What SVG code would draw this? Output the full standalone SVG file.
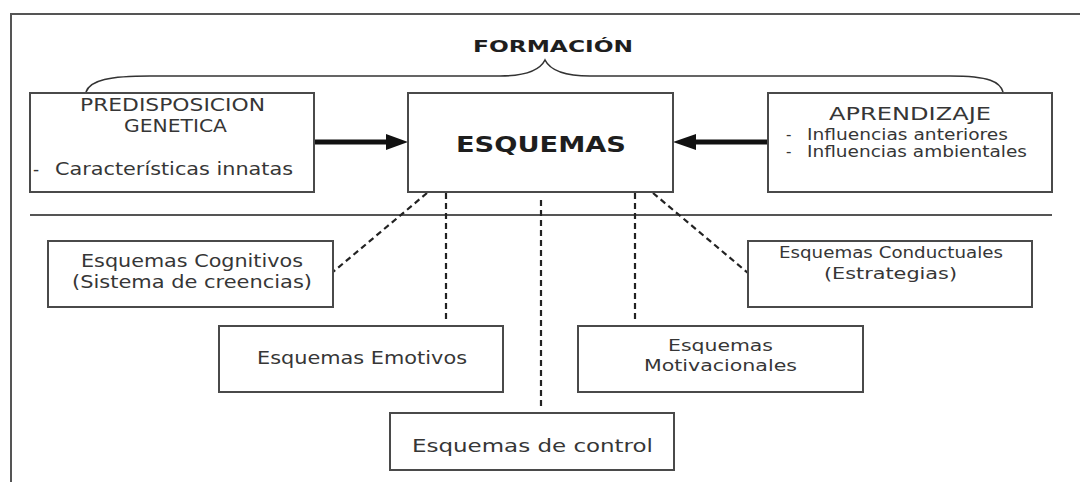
<svg xmlns="http://www.w3.org/2000/svg" width="1080" height="482" viewBox="0 0 1080 482">
<style>
.box{fill:#fff;stroke:#4a4a4a;stroke-width:2}
.t{font-family:"DejaVu Sans",Verdana,sans-serif;fill:#363636}
.b{font-family:"DejaVu Sans",Verdana,sans-serif;font-weight:bold;fill:#1e1e1e}
.dash{stroke:#222;stroke-width:2.2;stroke-dasharray:6,4;fill:none}
.arrow{stroke:#111;stroke-width:5;fill:none}
.head{fill:#111}
</style>
<rect width="1080" height="482" fill="#fff"/>
<g id="frame" fill="none" stroke="#555" stroke-width="2">
<path d="M11,482 L11,14 L1080,14"/>
<path d="M30,215 L1052,215"/>
</g>
<g id="formacion">
<path d="M86,92 C90,80 110,76 150,76 L500,76 C525,76 540,70 545,60 C550,70 565,76 590,76 L950,76 C990,76 1000,82 1003,92" fill="none" stroke="#333" stroke-width="1.6"/>
<text class="b" x="473" y="52" font-size="16.5" textLength="160" lengthAdjust="spacingAndGlyphs">FORMACIÓN</text>
</g>
<g id="connectors">
<line class="arrow" x1="314" y1="142" x2="389" y2="142"/>
<polygon class="head" points="386,134 408,142 386,150"/>
<line class="arrow" x1="768" y1="142" x2="693" y2="142"/>
<polygon class="head" points="696,134 673,142 696,150"/>
<line class="dash" x1="427" y1="193" x2="333" y2="272"/>
<line class="dash" x1="446" y1="193" x2="446" y2="320"/>
<line class="dash" x1="541" y1="200" x2="541" y2="408"/>
<line class="dash" x1="635" y1="193" x2="635" y2="320"/>
<line class="dash" x1="653" y1="193" x2="748" y2="273"/>
</g>
<g id="predisposicion">
<rect class="box" x="30" y="93" width="284" height="99"/>
<text class="t" x="80" y="111" font-size="17" textLength="185" lengthAdjust="spacingAndGlyphs">PREDISPOSICION</text>
<text class="t" x="124" y="132" font-size="17" textLength="103" lengthAdjust="spacingAndGlyphs">GENETICA</text>
<text class="t" x="33" y="175" font-size="17">-</text>
<text class="t" x="55" y="175" font-size="17" textLength="238" lengthAdjust="spacingAndGlyphs">Características innatas</text>
</g>
<g id="esquemas">
<rect class="box" x="408" y="93" width="265" height="99"/>
<text class="b" x="456" y="152" font-size="21" textLength="170" lengthAdjust="spacingAndGlyphs">ESQUEMAS</text>
</g>
<g id="aprendizaje">
<rect class="box" x="768" y="93" width="284" height="99"/>
<text class="t" x="829" y="120" font-size="17" textLength="162" lengthAdjust="spacingAndGlyphs">APRENDIZAJE</text>
<text class="t" x="786" y="140" font-size="15">-</text>
<text class="t" x="807" y="140" font-size="15" textLength="201" lengthAdjust="spacingAndGlyphs">Influencias anteriores</text>
<text class="t" x="786" y="157" font-size="15">-</text>
<text class="t" x="807" y="157" font-size="15" textLength="220" lengthAdjust="spacingAndGlyphs">Influencias ambientales</text>
</g>
<g id="cognitivos">
<rect class="box" x="48" y="241" width="285" height="66"/>
<text class="t" x="81" y="267" font-size="17" textLength="222" lengthAdjust="spacingAndGlyphs">Esquemas Cognitivos</text>
<text class="t" x="72" y="288" font-size="17" textLength="240" lengthAdjust="spacingAndGlyphs">(Sistema de creencias)</text>
</g>
<g id="conductuales">
<rect class="box" x="748" y="241" width="284" height="66"/>
<text class="t" x="779" y="258" font-size="15.5" textLength="224" lengthAdjust="spacingAndGlyphs">Esquemas Conductuales</text>
<text class="t" x="824" y="279" font-size="15.5" textLength="133" lengthAdjust="spacingAndGlyphs">(Estrategias)</text>
</g>
<g id="emotivos">
<rect class="box" x="219" y="326" width="284" height="66"/>
<text class="t" x="257" y="364" font-size="17" textLength="210" lengthAdjust="spacingAndGlyphs">Esquemas Emotivos</text>
</g>
<g id="motivacionales">
<rect class="box" x="578" y="326" width="285" height="66"/>
<text class="t" x="668" y="351" font-size="16.5" textLength="105" lengthAdjust="spacingAndGlyphs">Esquemas</text>
<text class="t" x="644" y="371" font-size="16.5" textLength="153" lengthAdjust="spacingAndGlyphs">Motivacionales</text>
</g>
<g id="control">
<rect class="box" x="390" y="413" width="284" height="57"/>
<text class="t" x="412" y="452" font-size="18" textLength="241" lengthAdjust="spacingAndGlyphs">Esquemas de control</text>
</g>
</svg>
